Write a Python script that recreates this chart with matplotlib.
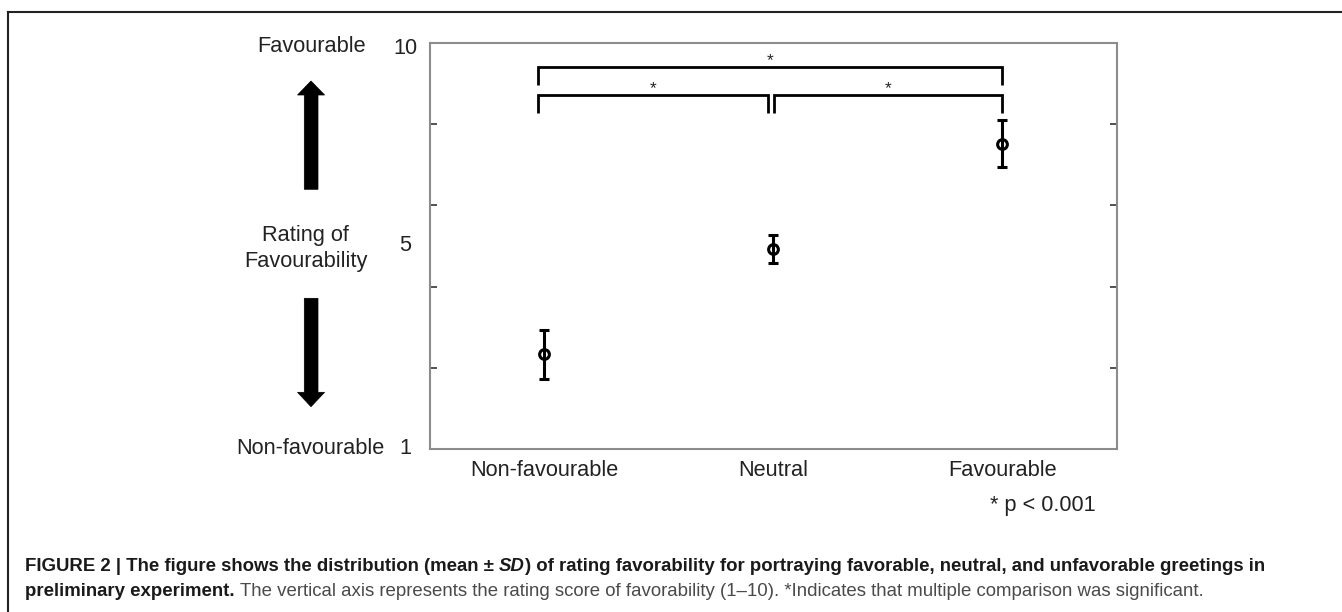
import numpy as np
import matplotlib
matplotlib.use('Agg')
import matplotlib.pyplot as plt
from matplotlib.lines import Line2D
from matplotlib.patches import Polygon

# ---------------- data ----------------
categories = ['Non-favourable', 'Neutral', 'Favourable']
mean_rating = [3.10, 5.43, 7.76]
sd_rating = [0.55, 0.31, 0.52]
y_tick_labels = ['10', '5', '1']
comparisons = [(0, 1), (1, 2), (0, 2)]
comparison_marks = ['*', '*', '*']
p_note = '* p < 0.001'
side_top = 'Favourable'
side_mid = ['Rating of', 'Favourability']
side_bottom = 'Non-favourable'
caption_line1 = [('FIGURE 2 | The figure shows the distribution (mean \u00b1', 'b'),
                 ('SD', 'bi'),
                 (') of rating favorability for portraying favorable, neutral, and unfavorable greetings in', 'b')]
caption_line2 = [('preliminary experiment.', 'b'),
                 ('The vertical axis represents the rating score of favorability (1\u201310). '
                  '*Indicates that multiple comparison was significant.', 'r')]

# ---------------- layout helpers ----------------
W, H = 1342, 612
def fx(px):
    return px / W
def fy(py):
    return 1 - py / H

plt.rcParams['font.family'] = ['Liberation Sans', 'DejaVu Sans']
fig = plt.figure(figsize=(W / 100, H / 100), dpi=100)
fig.patch.set_facecolor('white')

TXT = '#222222'
FS = 15.7

# panel frame (left + top)
fig.add_artist(Line2D([fx(8.3), fx(8.3)], [0, fy(11.7)], transform=fig.transFigure,
                      color='#222222', lw=1.5, solid_capstyle='projecting'))
fig.add_artist(Line2D([fx(8.3), 1], [fy(11.7), fy(11.7)], transform=fig.transFigure,
                      color='#222222', lw=1.5, solid_capstyle='projecting'))

# axes
ax = fig.add_axes([fx(430), fy(449.3), (1116.7 - 430) / W, (449.3 - 42.7) / H])
x = np.arange(1, len(categories) + 1)
ax.errorbar(x, mean_rating, yerr=sd_rating, fmt='o', ms=7.0, mfc='none', mec='black',
            mew=2.2, ecolor='black', elinewidth=2.2, capsize=3.5, capthick=2.2, zorder=3)
ax.set_xlim(0.5, 3.5)
ax.set_ylim(1, 10)
ax.set_xticks(x, categories)
ax.tick_params(axis='x', length=0, pad=8, labelsize=FS, labelcolor=TXT)
ax.set_yticks([])
ax.set_yticks(np.linspace(1, 10, 6)[1:-1], minor=True)
ax.tick_params(axis='y', which='minor', direction='in', length=5, width=1.3,
               color='#444444', left=True, right=True)
for sp in ax.spines.values():
    sp.set_color('#8c8c8c')
    sp.set_linewidth(1.5)

# significance brackets
left_off = [-0.027, 0.003, 0.0]
right_off = [0.0, -0.022, 0.0]
level_top = {(0, 1): 8.84, (1, 2): 8.84, (0, 2): 9.456}
leg_drop = 0.39
for (i, j), mark in zip(comparisons, comparison_marks):
    x0 = x[i] + left_off[i]
    x1 = x[j] + right_off[j]
    top = level_top[(i, j)]
    ax.plot([x0, x0, x1, x1], [top - leg_drop, top, top, top - leg_drop], color='black',
            lw=2.0, solid_joinstyle='miter', solid_capstyle='butt', clip_on=False, zorder=4)
    ax.text((x0 + x1) / 2, top + 0.04, mark, ha='center', va='baseline', fontsize=12.5,
            color=TXT)

# y labels
for lab, py in zip(y_tick_labels, [54, 251, 454]):
    fig.text(fx(405), fy(py), lab, ha='center', va='baseline', fontsize=FS, color=TXT)

# side descriptors
fig.text(fx(312), fy(51.7), side_top, ha='center', va='baseline', fontsize=FS, color=TXT)
fig.text(fx(305), fy(240.7), side_mid[0], ha='center', va='baseline', fontsize=FS, color=TXT)
fig.text(fx(305.5), fy(266.7), side_mid[1], ha='center', va='baseline', fontsize=FS, color=TXT)
fig.text(fx(310), fy(454), side_bottom, ha='center', va='baseline', fontsize=FS, color=TXT)
fig.text(fx(1042.5), fy(511), p_note, ha='center', va='baseline', fontsize=FS, color=TXT)

def arrow(points):
    pts = [(fx(a), fy(b)) for a, b in points]
    fig.add_artist(Polygon(pts, closed=True, transform=fig.transFigure,
                           facecolor='black', edgecolor='black', lw=0.5))

arrow([(311, 81), (324.6, 95), (318, 95), (318, 189.3), (304.3, 189.3), (304.3, 95), (297.5, 95)])
arrow([(311, 406.7), (324.6, 392.3), (318, 392.3), (318, 298.3), (304.3, 298.3), (304.3, 392.3), (297.5, 392.3)])

# caption
renderer = fig.canvas.get_renderer()
STY = {'b': dict(fontweight='bold', color='#1a1a1a'),
       'bi': dict(fontweight='bold', fontstyle='italic', color='#1a1a1a'),
       'r': dict(fontweight='normal', color='#4a4a4a')}

def tw(s, fs, kind):
    t = fig.text(0, 0, s, fontsize=fs, **STY[kind])
    w = t.get_window_extent(renderer).width
    t.remove()
    return w

def space_w(fs, kind):
    return tw('a a', fs, kind) - tw('aa', fs, kind)

def line_width(runs, fs, joins):
    w = 0
    for k, (s, kind) in enumerate(runs):
        w += tw(s, fs, kind)
        if k < len(runs) - 1 and joins[k]:
            w += space_w(fs, kind)
    return w

joins1 = [True, False]
joins2 = [True]
base_fs = 10.0
w1 = line_width(caption_line1, base_fs, joins1)
cap_fs = base_fs * (1272 - 25) / w1

def draw_line(runs, joins, px0, pybase, fs):
    xpos = px0
    for k, (s, kind) in enumerate(runs):
        t = fig.text(fx(xpos), fy(pybase), s, ha='left', va='baseline', fontsize=fs, **STY[kind])
        xpos += t.get_window_extent(renderer).width
        if k < len(runs) - 1 and joins[k]:
            xpos += space_w(fs, kind)

draw_line(caption_line1, joins1, 25, 570.7, cap_fs)
draw_line(caption_line2, joins2, 25, 596, cap_fs)

fig.savefig('out.png', dpi=100, facecolor='white')
